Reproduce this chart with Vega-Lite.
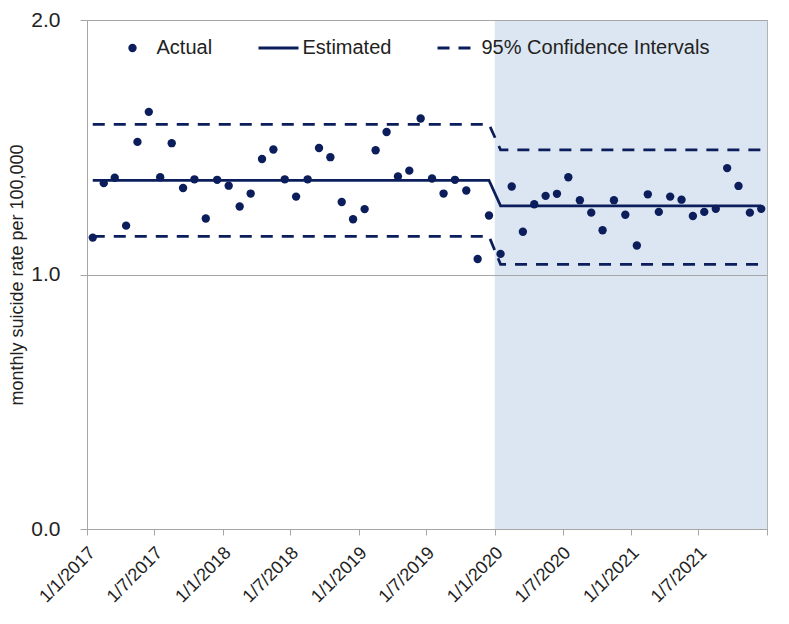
{
  "$schema": "https://vega.github.io/schema/vega-lite/v6.json",
  "width": 680,
  "height": 509,
  "autosize": {"type": "none"},
  "padding": {"left": 87, "top": 20, "right": 22, "bottom": 95},
  "background": "white",
  "config": {
    "view": {"stroke": "#b4b4b4", "strokeWidth": 1},
    "font": "Liberation Sans"
  },
  "datasets": {
    "monthly": [
      {"month": "2017-01-01", "actual": 1.145, "est": 1.37, "lo": 1.15, "hi": 1.59},
      {"month": "2017-02-01", "actual": 1.359, "est": 1.37, "lo": 1.15, "hi": 1.59},
      {"month": "2017-03-01", "actual": 1.380, "est": 1.37, "lo": 1.15, "hi": 1.59},
      {"month": "2017-04-01", "actual": 1.192, "est": 1.37, "lo": 1.15, "hi": 1.59},
      {"month": "2017-05-01", "actual": 1.521, "est": 1.37, "lo": 1.15, "hi": 1.59},
      {"month": "2017-06-01", "actual": 1.639, "est": 1.37, "lo": 1.15, "hi": 1.59},
      {"month": "2017-07-01", "actual": 1.382, "est": 1.37, "lo": 1.15, "hi": 1.59},
      {"month": "2017-08-01", "actual": 1.516, "est": 1.37, "lo": 1.15, "hi": 1.59},
      {"month": "2017-09-01", "actual": 1.340, "est": 1.37, "lo": 1.15, "hi": 1.59},
      {"month": "2017-10-01", "actual": 1.374, "est": 1.37, "lo": 1.15, "hi": 1.59},
      {"month": "2017-11-01", "actual": 1.220, "est": 1.37, "lo": 1.15, "hi": 1.59},
      {"month": "2017-12-01", "actual": 1.372, "est": 1.37, "lo": 1.15, "hi": 1.59},
      {"month": "2018-01-01", "actual": 1.349, "est": 1.37, "lo": 1.15, "hi": 1.59},
      {"month": "2018-02-01", "actual": 1.267, "est": 1.37, "lo": 1.15, "hi": 1.59},
      {"month": "2018-03-01", "actual": 1.318, "est": 1.37, "lo": 1.15, "hi": 1.59},
      {"month": "2018-04-01", "actual": 1.454, "est": 1.37, "lo": 1.15, "hi": 1.59},
      {"month": "2018-05-01", "actual": 1.491, "est": 1.37, "lo": 1.15, "hi": 1.59},
      {"month": "2018-06-01", "actual": 1.374, "est": 1.37, "lo": 1.15, "hi": 1.59},
      {"month": "2018-07-01", "actual": 1.306, "est": 1.37, "lo": 1.15, "hi": 1.59},
      {"month": "2018-08-01", "actual": 1.374, "est": 1.37, "lo": 1.15, "hi": 1.59},
      {"month": "2018-09-01", "actual": 1.497, "est": 1.37, "lo": 1.15, "hi": 1.59},
      {"month": "2018-10-01", "actual": 1.461, "est": 1.37, "lo": 1.15, "hi": 1.59},
      {"month": "2018-11-01", "actual": 1.285, "est": 1.37, "lo": 1.15, "hi": 1.59},
      {"month": "2018-12-01", "actual": 1.217, "est": 1.37, "lo": 1.15, "hi": 1.59},
      {"month": "2019-01-01", "actual": 1.257, "est": 1.37, "lo": 1.15, "hi": 1.59},
      {"month": "2019-02-01", "actual": 1.488, "est": 1.37, "lo": 1.15, "hi": 1.59},
      {"month": "2019-03-01", "actual": 1.560, "est": 1.37, "lo": 1.15, "hi": 1.59},
      {"month": "2019-04-01", "actual": 1.385, "est": 1.37, "lo": 1.15, "hi": 1.59},
      {"month": "2019-05-01", "actual": 1.408, "est": 1.37, "lo": 1.15, "hi": 1.59},
      {"month": "2019-06-01", "actual": 1.613, "est": 1.37, "lo": 1.15, "hi": 1.59},
      {"month": "2019-07-01", "actual": 1.377, "est": 1.37, "lo": 1.15, "hi": 1.59},
      {"month": "2019-08-01", "actual": 1.318, "est": 1.37, "lo": 1.15, "hi": 1.59},
      {"month": "2019-09-01", "actual": 1.372, "est": 1.37, "lo": 1.15, "hi": 1.59},
      {"month": "2019-10-01", "actual": 1.330, "est": 1.37, "lo": 1.15, "hi": 1.59},
      {"month": "2019-11-01", "actual": 1.061, "est": 1.37, "lo": 1.15, "hi": 1.59},
      {"month": "2019-12-01", "actual": 1.232, "est": 1.37, "lo": 1.15, "hi": 1.59},
      {"month": "2020-01-01", "actual": 1.081, "est": 1.27, "lo": 1.04, "hi": 1.49},
      {"month": "2020-02-01", "actual": 1.346, "est": 1.27, "lo": 1.04, "hi": 1.49},
      {"month": "2020-03-01", "actual": 1.168, "est": 1.27, "lo": 1.04, "hi": 1.49},
      {"month": "2020-04-01", "actual": 1.276, "est": 1.27, "lo": 1.04, "hi": 1.49},
      {"month": "2020-05-01", "actual": 1.309, "est": 1.27, "lo": 1.04, "hi": 1.49},
      {"month": "2020-06-01", "actual": 1.317, "est": 1.27, "lo": 1.04, "hi": 1.49},
      {"month": "2020-07-01", "actual": 1.382, "est": 1.27, "lo": 1.04, "hi": 1.49},
      {"month": "2020-08-01", "actual": 1.292, "est": 1.27, "lo": 1.04, "hi": 1.49},
      {"month": "2020-09-01", "actual": 1.243, "est": 1.27, "lo": 1.04, "hi": 1.49},
      {"month": "2020-10-01", "actual": 1.174, "est": 1.27, "lo": 1.04, "hi": 1.49},
      {"month": "2020-11-01", "actual": 1.292, "est": 1.27, "lo": 1.04, "hi": 1.49},
      {"month": "2020-12-01", "actual": 1.235, "est": 1.27, "lo": 1.04, "hi": 1.49},
      {"month": "2021-01-01", "actual": 1.114, "est": 1.27, "lo": 1.04, "hi": 1.49},
      {"month": "2021-02-01", "actual": 1.315, "est": 1.27, "lo": 1.04, "hi": 1.49},
      {"month": "2021-03-01", "actual": 1.246, "est": 1.27, "lo": 1.04, "hi": 1.49},
      {"month": "2021-04-01", "actual": 1.306, "est": 1.27, "lo": 1.04, "hi": 1.49},
      {"month": "2021-05-01", "actual": 1.294, "est": 1.27, "lo": 1.04, "hi": 1.49},
      {"month": "2021-06-01", "actual": 1.230, "est": 1.27, "lo": 1.04, "hi": 1.49},
      {"month": "2021-07-01", "actual": 1.246, "est": 1.27, "lo": 1.04, "hi": 1.49},
      {"month": "2021-08-01", "actual": 1.258, "est": 1.27, "lo": 1.04, "hi": 1.49},
      {"month": "2021-09-01", "actual": 1.418, "est": 1.27, "lo": 1.04, "hi": 1.49},
      {"month": "2021-10-01", "actual": 1.348, "est": 1.27, "lo": 1.04, "hi": 1.49},
      {"month": "2021-11-01", "actual": 1.243, "est": 1.27, "lo": 1.04, "hi": 1.49},
      {"month": "2021-12-01", "actual": 1.258, "est": 1.27, "lo": 1.04, "hi": 1.49}
    ],
    "period": [
      {"start": "2020-01-01", "end": "2022-01-01"}
    ]
  },
  "layer": [
    {
      "data": {"name": "period"},
      "mark": {"type": "rect", "fill": "#dce6f2"},
      "encoding": {
        "x": {
          "field": "start",
          "type": "temporal",
          "scale": {
            "type": "utc",
            "domain": [
              {"year": 2017, "month": 1, "date": 1, "utc": true},
              {"year": 2022, "month": 1, "date": 1, "utc": true}
            ]
          },
          "axis": {
            "title": null,
            "grid": false,
            "values": [
              {"year": 2017, "month": 1, "date": 1, "utc": true},
              {"year": 2017, "month": 7, "date": 1, "utc": true},
              {"year": 2018, "month": 1, "date": 1, "utc": true},
              {"year": 2018, "month": 7, "date": 1, "utc": true},
              {"year": 2019, "month": 1, "date": 1, "utc": true},
              {"year": 2019, "month": 7, "date": 1, "utc": true},
              {"year": 2020, "month": 1, "date": 1, "utc": true},
              {"year": 2020, "month": 7, "date": 1, "utc": true},
              {"year": 2021, "month": 1, "date": 1, "utc": true},
              {"year": 2021, "month": 7, "date": 1, "utc": true},
              {"year": 2022, "month": 1, "date": 1, "utc": true}
            ],
            "labelExpr": "utcyear(datum.value) === 2022 ? '' : utcdate(datum.value) + '/' + (utcmonth(datum.value) + 1) + '/' + utcyear(datum.value)",
            "labelAngle": -45,
            "labelAlign": "right",
            "labelBaseline": "middle",
            "labelFontSize": 18,
            "labelColor": "#222222",
            "labelPadding": 15,
            "labelOffset": 5,
            "labelOverlap": false,
            "labelFlush": false,
            "labelBound": false,
            "tickSize": 6,
            "tickColor": "#a6a6a6",
            "domainColor": "#a6a6a6"
          }
        },
        "x2": {"field": "end"}
      }
    },
    {
      "data": {"name": "monthly"},
      "transform": [
        {"fold": ["est", "lo", "hi"], "as": ["key", "rate"]}
      ],
      "mark": {"type": "line", "color": "#0b1e5b", "strokeWidth": 2.75},
      "encoding": {
        "x": {"field": "month", "type": "temporal", "timeUnit": "utcyearmonth", "bandPosition": 0.5},
        "y": {"field": "rate", "type": "quantitative"},
        "strokeDash": {
          "field": "key",
          "type": "nominal",
          "scale": {
            "domain": ["Actual", "est", "hi", "lo"],
            "range": [[1, 0], [1, 0], [12, 9], [12, 9]]
          },
          "legend": {
            "title": null,
            "orient": "none",
            "direction": "horizontal",
            "legendX": 27,
            "legendY": 18,
            "values": ["Actual", "est", "hi"],
            "labelExpr": "datum.label === 'est' ? 'Estimated' : datum.label === 'hi' ? '95% Confidence Intervals' : datum.label",
            "labelFontSize": 20,
            "labelFont": "Liberation Sans",
            "labelColor": "#222222",
            "labelLimit": 400,
            "labelOffset": 14,
            "symbolOffset": 8.5,
            "symbolSize": 1600,
            "symbolStrokeWidth": 3,
            "symbolStrokeColor": "#0b1e5b",
            "columnPadding": 39,
            "padding": 0,
            "encode": {
              "symbols": {
                "update": {
                  "shape": {"signal": "datum.value === 'Actual' ? 'circle' : 'stroke'"},
                  "size": {"signal": "datum.value === 'Actual' ? 70 : 1600"},
                  "fill": {"signal": "datum.value === 'Actual' ? '#0b1e5b' : 'transparent'"},
                  "stroke": {"value": "#0b1e5b"},
                  "strokeWidth": {"signal": "datum.value === 'Actual' ? 0 : 3"},
                  "strokeDash": {"signal": "datum.value === 'hi' ? [12, 9] : [1, 0]"}
                }
              }
            }
          }
        }
      }
    },
    {
      "data": {"name": "monthly"},
      "mark": {"type": "point", "filled": true, "opacity": 1, "size": 70, "color": "#0b1e5b"},
      "encoding": {
        "x": {"field": "month", "type": "temporal", "timeUnit": "utcyearmonth", "bandPosition": 0.5},
        "y": {
          "field": "actual",
          "type": "quantitative",
          "scale": {"domain": [0, 2], "nice": false, "zero": true},
          "axis": {
            "title": "monthly suicide rate per 100,000",
            "titleFontSize": 18,
            "titleFontWeight": "normal",
            "titleColor": "#222222",
            "titlePadding": 4,
            "values": [0, 1, 2],
            "format": ".1f",
            "grid": true,
            "gridColor": "#a6a6a6",
            "tickSize": 7,
            "tickColor": "#a6a6a6",
            "domainColor": "#a6a6a6",
            "labelFontSize": 21,
            "labelColor": "#222222",
            "labelPadding": 20,
            "zindex": 1
          }
        }
      }
    }
  ]
}
